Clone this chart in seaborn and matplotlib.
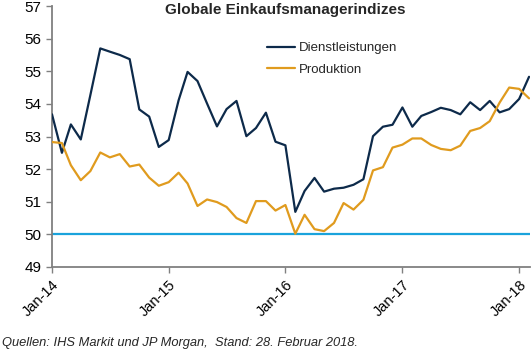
import numpy as np
import pandas as pd
import seaborn as sns
import matplotlib.pyplot as plt
import matplotlib.dates as mdates

# monthly PMI values, Jan-14 .. Feb-18
months = pd.date_range('2014-01-01', periods=50, freq='MS')
dienstleistungen = [53.68, 52.50, 53.37, 52.91, 54.27, 55.70, 55.60, 55.50, 55.37, 53.83,
                    53.61, 52.68, 52.89, 54.11, 54.98, 54.70, 54.01, 53.31, 53.84, 54.09,
                    53.01, 53.26, 53.73, 52.84, 52.73, 50.69, 51.33, 51.73, 51.31, 51.40,
                    51.43, 51.52, 51.69, 53.01, 53.30, 53.36, 53.89, 53.30, 53.63, 53.75,
                    53.88, 53.81, 53.68, 54.05, 53.81, 54.09, 53.74, 53.84, 54.15, 54.83]
produktion = [52.83, 52.80, 52.12, 51.66, 51.94, 52.51, 52.36, 52.46, 52.08, 52.14,
              51.74, 51.49, 51.60, 51.89, 51.56, 50.87, 51.07, 50.99, 50.84, 50.50,
              50.35, 51.02, 51.02, 50.73, 50.90, 50.02, 50.60, 50.16, 50.10, 50.35,
              50.96, 50.76, 51.06, 51.96, 52.06, 52.66, 52.75, 52.94, 52.94, 52.74,
              52.62, 52.58, 52.72, 53.17, 53.26, 53.47, 54.04, 54.50, 54.46, 54.17]
series_names = ['Dienstleistungen', 'Produktion']
series_colors = ['#0d2a4a', '#e09b1e']

df = pd.DataFrame({'Monat': months, 'Dienstleistungen': dienstleistungen, 'Produktion': produktion})
long = df.melt(id_vars='Monat', var_name='Index', value_name='Wert')

sns.set_style('ticks')
plt.rcParams['font.family'] = ['Liberation Sans', 'DejaVu Sans']

fig = plt.figure(figsize=(5.31, 3.52), dpi=100)
ax = fig.add_axes([52/531, 1-267/352, 478/531, 261/352])

ax.axhline(50, color='#1aa3dc', lw=1.6, zorder=1)
sns.lineplot(data=long, x='Monat', y='Wert', hue='Index', hue_order=series_names,
             palette=series_colors, lw=1.6, ax=ax, zorder=3)

ax.set_ylim(49, 57)
ax.set_yticks(range(49, 58))
ax.set_xlim(pd.Timestamp('2014-01-01'), pd.Timestamp('2018-02-04'))
ax.xaxis.set_major_locator(mdates.YearLocator())
ax.xaxis.set_major_formatter(mdates.DateFormatter('%b-%y'))
ax.set_xlabel('')
ax.set_ylabel('')
for s in ['top', 'right']:
    ax.spines[s].set_visible(False)
for s in ['left', 'bottom']:
    ax.spines[s].set_color('#808080')
    ax.spines[s].set_linewidth(1.3)
ax.tick_params(axis='both', colors='#808080', length=4, width=1, labelcolor='black')
ax.tick_params(axis='y', labelsize=11)
ax.tick_params(axis='x', labelsize=10.5)
plt.setp(ax.get_xticklabels(), rotation=45, ha='right', rotation_mode='anchor')

handles, labels = ax.get_legend_handles_labels()
ax.legend(handles, labels, loc='upper left', bbox_to_anchor=(267/531, 1-42/352),
          bbox_transform=fig.transFigure, frameon=False, fontsize=9.5,
          handlelength=2.1, handletextpad=0.3, labelspacing=0.7,
          borderpad=0, borderaxespad=0)

fig.text(0.537, 1-10/352, 'Globale Einkaufsmanagerindizes', ha='center', va='center',
         fontsize=11, fontweight='bold')
fig.text(2/531, 1-346/352, 'Quellen: IHS Markit und JP Morgan,  Stand: 28. Februar 2018.',
         ha='left', va='baseline', fontsize=9.3, style='italic')

fig.savefig('out.png', dpi=100)
